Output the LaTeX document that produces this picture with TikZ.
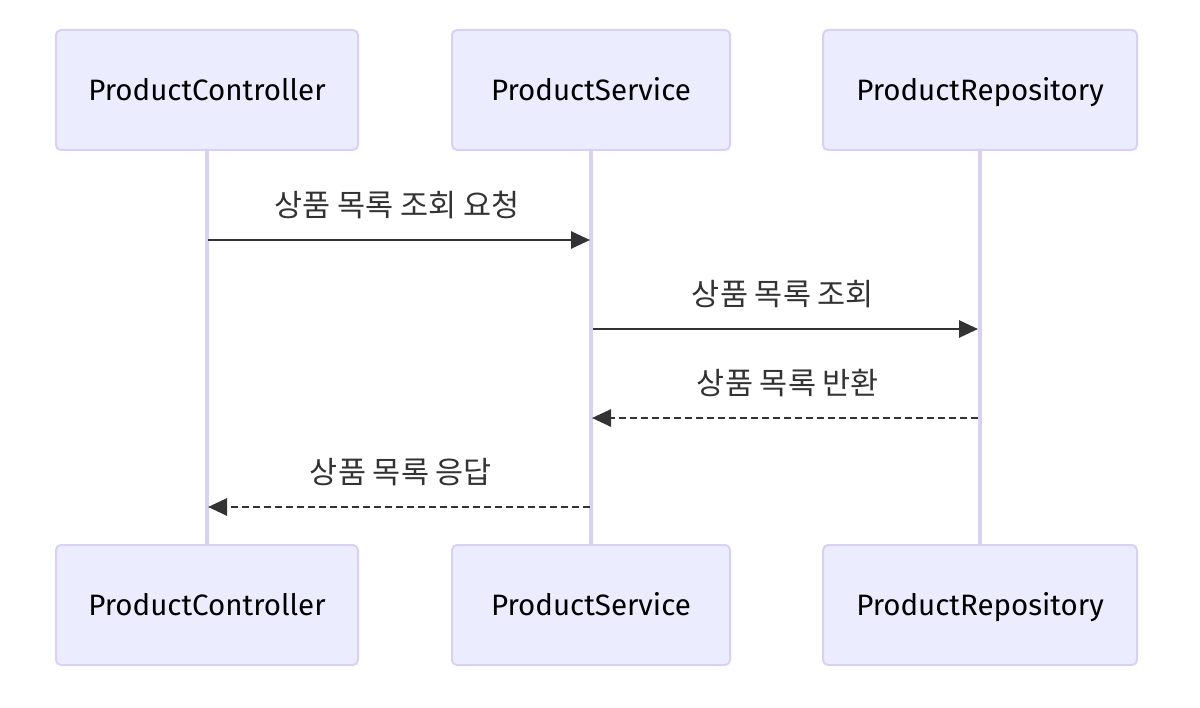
\documentclass[tikz,border=0pt]{standalone}
\usepackage{fontspec}
\setmainfont{Fira Sans}
\newfontfamily\kr{Noto Sans CJK KR}
\usetikzlibrary{arrows.meta}
\definecolor{actfill}{HTML}{ECECFF}
\definecolor{actline}{HTML}{DAD0F2}
\definecolor{msgline}{HTML}{333333}
\tikzset{
  actor/.style={draw=actline, line width=2pt, fill=actfill, rounded corners=5pt,
    minimum height=120pt, inner sep=0pt, text height=21pt, text depth=0pt,
    font=\fontsize{29.5}{34}\selectfont, text=black},
  lifeline/.style={draw=actline, line width=3.5pt},
  msg/.style={draw=msgline, line width=2.8pt, -{Triangle[length=19pt,width=17pt]}},
  reply/.style={msg, dash pattern=on 7pt off 4pt},
  lbl/.style={font=\kr\fontsize{30.5}{36}\selectfont, text=msgline, inner sep=0pt}
}
\begin{document}
\begin{tikzpicture}[x=1pt,y=-1pt]
\useasboundingbox (0,0) rectangle (1200,708);
\node[actor, minimum width=302pt] (ct) at (207,90) {ProductController};
\node[actor, minimum width=278pt] (st) at (591,90) {ProductService};
\node[actor, minimum width=314pt] (rt) at (980,90) {ProductRepository};
\node[actor, minimum width=302pt] (cb) at (207,605) {ProductController};
\node[actor, minimum width=278pt] (sb) at (591,605) {ProductService};
\node[actor, minimum width=314pt] (rb) at (980,605) {ProductRepository};
\draw[lifeline] (ct.south) -- (cb.north);
\draw[lifeline] (st.south) -- (sb.north);
\draw[lifeline] (rt.south) -- (rb.north);
\coordinate (c1) at (208,240); \coordinate (s1) at (590,240);
\coordinate (s2) at (593,329); \coordinate (r2) at (978,329);
\coordinate (r3) at (978,418); \coordinate (s3) at (592,418);
\coordinate (s4) at (590,507); \coordinate (c4) at (208,507);
\draw[msg] (c1) -- (s1);
\draw[msg] (s2) -- (r2);
\draw[reply] (r3) -- (s3);
\draw[reply] (s4) -- (c4);
\node[lbl] (l1) at (397,205) {상품 목록 조회 요청};
\node[lbl] (l2) at (783,294) {상품 목록 조회};
\node[lbl] (l3) at (788,383) {상품 목록 반환};
\node[lbl] (l4) at (401,472) {상품 목록 응답};
\end{tikzpicture}
\end{document}
